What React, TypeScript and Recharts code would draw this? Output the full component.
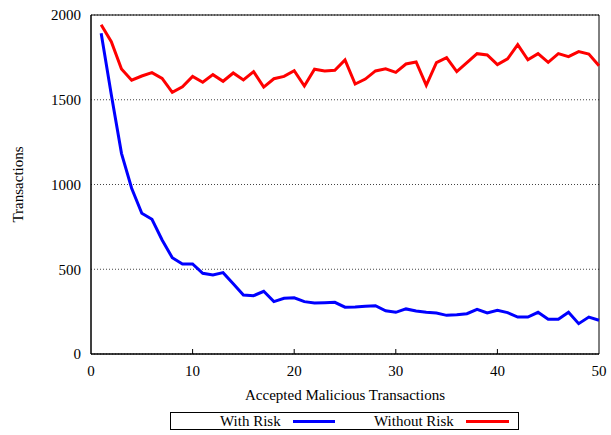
import React from "react";
import { LineChart, Line, XAxis, YAxis, CartesianGrid, ReferenceArea, Label } from "recharts";

const FONT = "Liberation Serif, Times New Roman, Times, DejaVu Serif, serif";

// accepted malicious transactions (x axis)
const accepted = [
  1, 2, 3, 4, 5, 6, 7, 8, 9, 10, 11, 12, 13, 14, 15, 16, 17, 18, 19, 20, 21, 22, 23, 24, 25,
  26, 27, 28, 29, 30, 31, 32, 33, 34, 35, 36, 37, 38, 39, 40, 41, 42, 43, 44, 45, 46, 47, 48, 49, 50,
];

const withRisk = [
  1892, 1530, 1184, 978, 830, 795, 673, 568, 531, 531, 476, 466, 480, 415, 348, 344, 370, 309, 329, 332,
  309, 301, 303, 305, 276, 277, 281, 285, 255, 246, 266, 254, 246, 242, 228, 232, 238, 264, 242, 258,
  244, 218, 218, 246, 205, 205, 246, 179, 218, 199,
];

const withoutRisk = [
  1943, 1843, 1681, 1615, 1640, 1660, 1626, 1544, 1577, 1638, 1603, 1648, 1609, 1658, 1617, 1666, 1575,
  1624, 1638, 1671, 1581, 1680, 1670, 1674, 1735, 1593, 1622, 1670, 1683, 1662, 1711, 1723, 1585, 1719,
  1748, 1666, 1719, 1772, 1764, 1707, 1741, 1825, 1736, 1772, 1721, 1772, 1754, 1784, 1770, 1701,
];

const xTicks = [0, 10, 20, 30, 40, 50];
const yTicks = [0, 500, 1000, 1500, 2000];

const data = accepted.map((x, i) => ({ x, withRisk: withRisk[i], withoutRisk: withoutRisk[i] }));

const XTick = (props: any) => {
  const { x, y, payload } = props;
  const inner = payload.value !== 0 && payload.value !== 50;
  return (
    <g>
      {inner && <line x1={x} x2={x} y1={y} y2={y - 5} stroke="#000" strokeWidth={1} />}
      <text x={x} y={y + 22} textAnchor="middle" fill="#000" fontSize={15} style={{ fontFamily: FONT }}>
        {payload.value}
      </text>
    </g>
  );
};

export default function App() {
  return (
    <div style={{ position: "absolute", left: 0, top: 0, width: 611, height: 435, background: "#fff", fontFamily: FONT }}>
      <LineChart width={611} height={435} data={data} margin={{ top: 15, right: 12, bottom: 0, left: 0 }} style={{ fontFamily: FONT }}>
        <CartesianGrid vertical={false} stroke="#444" strokeDasharray="1 2" />
        <XAxis
          dataKey="x"
          type="number"
          domain={[0, 50]}
          ticks={xTicks}
          height={81}
          tickLine={false}
          tickSize={0}
          tickMargin={0}
          axisLine={{ stroke: "#000" }}
          tick={<XTick />}
        >
          <Label
            content={(p: any) => (
              <text
                x={p.viewBox.x + p.viewBox.width / 2}
                y={p.viewBox.y + 46}
                textAnchor="middle"
                fill="#000"
                fontSize={15}
                style={{ fontFamily: FONT }}
              >
                Accepted Malicious Transactions
              </text>
            )}
          />
        </XAxis>
        <YAxis
          type="number"
          domain={[0, 2000]}
          ticks={yTicks}
          width={91}
          tickLine={false}
          tickMargin={4}
          axisLine={{ stroke: "#000" }}
          tick={{ fill: "#000", fontSize: 15, style: { fontFamily: FONT } }}
        >
          <Label
            content={(p: any) => {
              const cx = p.viewBox.x + 18;
              const cy = p.viewBox.y + p.viewBox.height / 2;
              return (
                <text
                  x={cx}
                  y={cy}
                  transform={`rotate(-90, ${cx}, ${cy})`}
                  textAnchor="middle"
                  dominantBaseline="central"
                  fill="#000"
                  fontSize={15}
                  style={{ fontFamily: FONT }}
                >
                  Transactions
                </text>
              );
            }}
          />
        </YAxis>
        <ReferenceArea x1={0} x2={50} y1={0} y2={2000} fill="none" stroke="#000" strokeWidth={1} />
        <Line
          type="linear"
          dataKey="withRisk"
          stroke="#0000ff"
          strokeWidth={3}
          dot={false}
          isAnimationActive={false}
        />
        <Line
          type="linear"
          dataKey="withoutRisk"
          stroke="#ff0000"
          strokeWidth={3}
          dot={false}
          isAnimationActive={false}
        />
      </LineChart>
      <div
        style={{
          position: "absolute",
          left: 170,
          top: 412,
          width: 347,
          height: 16,
          border: "1px solid #000",
          fontFamily: FONT,
          fontSize: 15,
          lineHeight: "16px",
          color: "#000",
        }}
      >
        <span style={{ position: "absolute", left: 49, top: 0 }}>With Risk</span>
        <span style={{ position: "absolute", left: 122, top: 7, width: 42, height: 3, background: "#0000ff" }} />
        <span style={{ position: "absolute", left: 203, top: 0 }}>Without Risk</span>
        <span style={{ position: "absolute", left: 295, top: 7, width: 43, height: 3, background: "#ff0000" }} />
      </div>
    </div>
  );
}
